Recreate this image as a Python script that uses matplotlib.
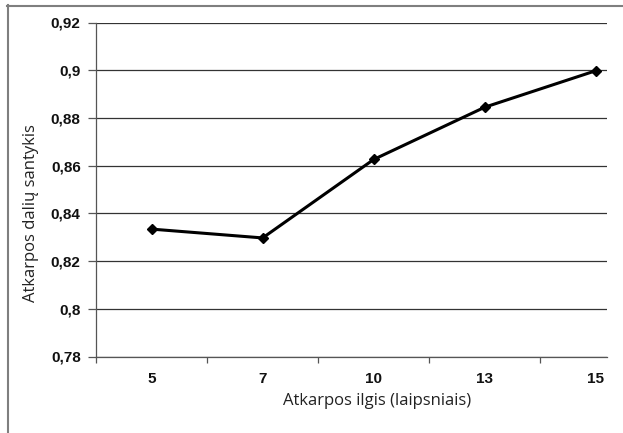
import matplotlib
matplotlib.use('Agg')
import matplotlib.pyplot as plt
from matplotlib.lines import Line2D
from matplotlib.ticker import FuncFormatter

plt.rcParams['font.family'] = ['Liberation Sans', 'DejaVu Sans']

# data
lengths = ['5', '7', '10', '13', '15']
ratios = [0.8334, 0.8297, 0.8626, 0.8845, 0.8998]
y_ticks = [0.78, 0.80, 0.82, 0.84, 0.86, 0.88, 0.90, 0.92]

W, H = 623, 433
fig = plt.figure(figsize=(W / 100, H / 100), dpi=100)
ax = fig.add_axes([96 / W, 1 - 356.5 / H, (607 - 96) / W, (356.5 - 22.5) / H])

x = list(range(len(lengths)))
ax.plot(x, ratios, color='black', lw=2.2, marker='D', ms=5.5, mfc='black', mec='black', zorder=3)

ax.set_ylim(0.78, 0.92)
ax.set_yticks(y_ticks)
ax.yaxis.set_major_formatter(FuncFormatter(lambda v, p: ('%g' % round(v, 2)).replace('.', ',')))
ax.grid(axis='y', color='#333333', lw=0.9)
ax.set_axisbelow(True)

ax.set_xlim(-0.5, 4.1)
ax.set_xticks(x)
ax.set_xticklabels(lengths)
ax.set_xticks([k - 0.5 for k in x], minor=True)
ax.tick_params(axis='x', which='major', length=0, pad=11)
ax.tick_params(axis='x', which='minor', length=4, width=0.9, color='#555555')
ax.tick_params(axis='y', length=6, width=0.9, color='#555555', pad=5)
for lab in ax.get_xticklabels() + ax.get_yticklabels():
    lab.set_fontsize(11)
    lab.set_fontweight('bold')
    lab.set_color('#111111')

for s in ['top', 'right']:
    ax.spines[s].set_visible(False)
for s in ['left', 'bottom']:
    ax.spines[s].set_color('#555555')
    ax.spines[s].set_linewidth(0.9)

ax.set_xlabel('Atkarpos ilgis (laipsniais)', fontsize=12, family='Open Sans', color='#222222')
ax.set_ylabel('Atkarpos dalių santykis', fontsize=12, family='Open Sans', color='#222222')
ax.xaxis.set_label_coords(0.55, -0.108)
ax.yaxis.set_label_coords(-0.112, 0.43)

# outer chart frame (left and top edges visible)
fig.add_artist(Line2D([7.5 / W, 7.5 / W], [0, 1 - 5 / H], transform=fig.transFigure, color='#7f7f7f', lw=1.5))
fig.add_artist(Line2D([7 / W, 1], [1 - 5.5 / H, 1 - 5.5 / H], transform=fig.transFigure, color='#7f7f7f', lw=1.5))

fig.savefig('out.png', dpi=100)
